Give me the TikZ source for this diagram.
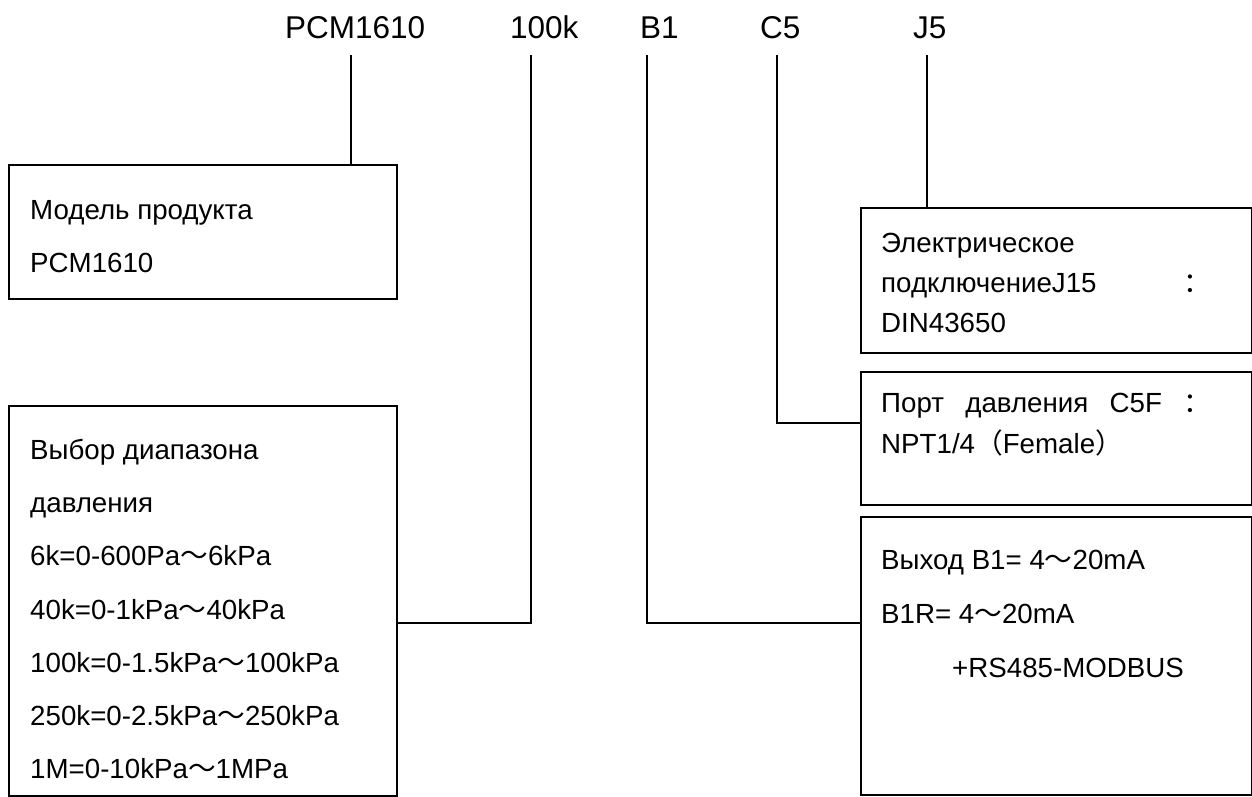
\documentclass[tikz,border=0pt]{standalone}
\usepackage{fontspec}
\setmainfont{Liberation Sans}
\newfontfamily\cjk{Noto Sans CJK SC}
\newcommand{\wt}{{\cjk ～}}
\begin{document}
\begin{tikzpicture}[x=1pt,y=-1pt,
  box/.style={draw, rectangle, line width=1.8pt, inner sep=0pt, anchor=north west},
  conn/.style={line width=1.3pt},
  txt/.style={anchor=base west, inner sep=0pt, font=\fontsize{27.7}{33}\selectfont},
  head/.style={anchor=base west, inner sep=0pt, font=\fontsize{31.5}{38}\selectfont}]
\useasboundingbox (0,0) rectangle (1252,796);

% header labels
\node[head] (hPCM) at (285,38) {PCM1610};
\node[head] (h100k) at (510,38) {100k};
\node[head] (hB1) at (640,38) {B1};
\node[head] (hC5) at (760,38) {C5};
\node[head] (hJ5) at (913,38) {J5};

\coordinate (tPCM) at (351,55);
\coordinate (t100k) at (531,55);
\coordinate (tB1) at (647,55);
\coordinate (tC5) at (777,55);
\coordinate (tJ5) at (927,55);

% boxes
\node[box, minimum width=388pt, minimum height=134pt] (box1) at (8,164) {};
\node[box, minimum width=388pt, minimum height=390pt] (box2) at (8,405) {};
\node[box, minimum width=391pt, minimum height=145pt] (boxJ) at (860,207) {};
\node[box, minimum width=391pt, minimum height=133pt] (boxC) at (860,371) {};
\node[box, minimum width=391pt, minimum height=278pt] (boxB) at (860,516) {};

% box 1 text
\node[txt] (m1) at (30,219) {Модель продукта};
\node[txt] (m2) at (30,272) {PCM1610};

% box 2 text
\node[txt] (r1) at (30,459) {Выбор диапазона};
\node[txt] (r2) at (30,512) {давления};
\node[txt] (r3) at (30,565) {6k=0-600Pa\wt6kPa};
\node[txt] (r4) at (30,619) {40k=0-1kPa\wt40kPa};
\node[txt] (r5) at (30,672) {100k=0-1.5kPa\wt100kPa};
\node[txt] (r6) at (30,725) {250k=0-2.5kPa\wt250kPa};
\node[txt] (r7) at (30,778) {1M=0-10kPa\wt1MPa};

% J5 box text
\node[txt] (j1) at (881,252) {Электрическое};
\node[txt] (j2) at (881,292) {\hbox to 330pt{подключениеJ15\hfill{\cjk ：}}};
\node[txt] (j3) at (881,332) {DIN43650};

% C5 box text
\node[txt] (c1) at (881,412) {\hbox to 330pt{Порт\hfill давления\hfill C5F\hfill{\cjk ：}}};
\node[txt] (c2) at (881,453) {NPT1/4{\cjk （}Female{\cjk ）}};

% B1 box text
\node[txt] (b1) at (881,569) {Выход B1= 4\wt20mA};
\node[txt] (b2) at (881,623) {B1R= 4\wt20mA};
\node[txt] (b3) at (952,677) {+RS485-MODBUS};

% connectors
\draw[conn] (tPCM) -- (tPCM |- box1.north);
\draw[conn] (tJ5) -- (tJ5 |- boxJ.north);
\coordinate (k100) at (531,623);
\coordinate (kB1) at (647,623);
\coordinate (kC5) at (777,423);
\draw[conn] (t100k) -- (k100) -- (k100 -| box2.east);
\draw[conn] (tB1) -- (kB1) -- (kB1 -| boxB.west);
\draw[conn] (tC5) -- (kC5) -- (kC5 -| boxC.west);
\end{tikzpicture}
\end{document}
